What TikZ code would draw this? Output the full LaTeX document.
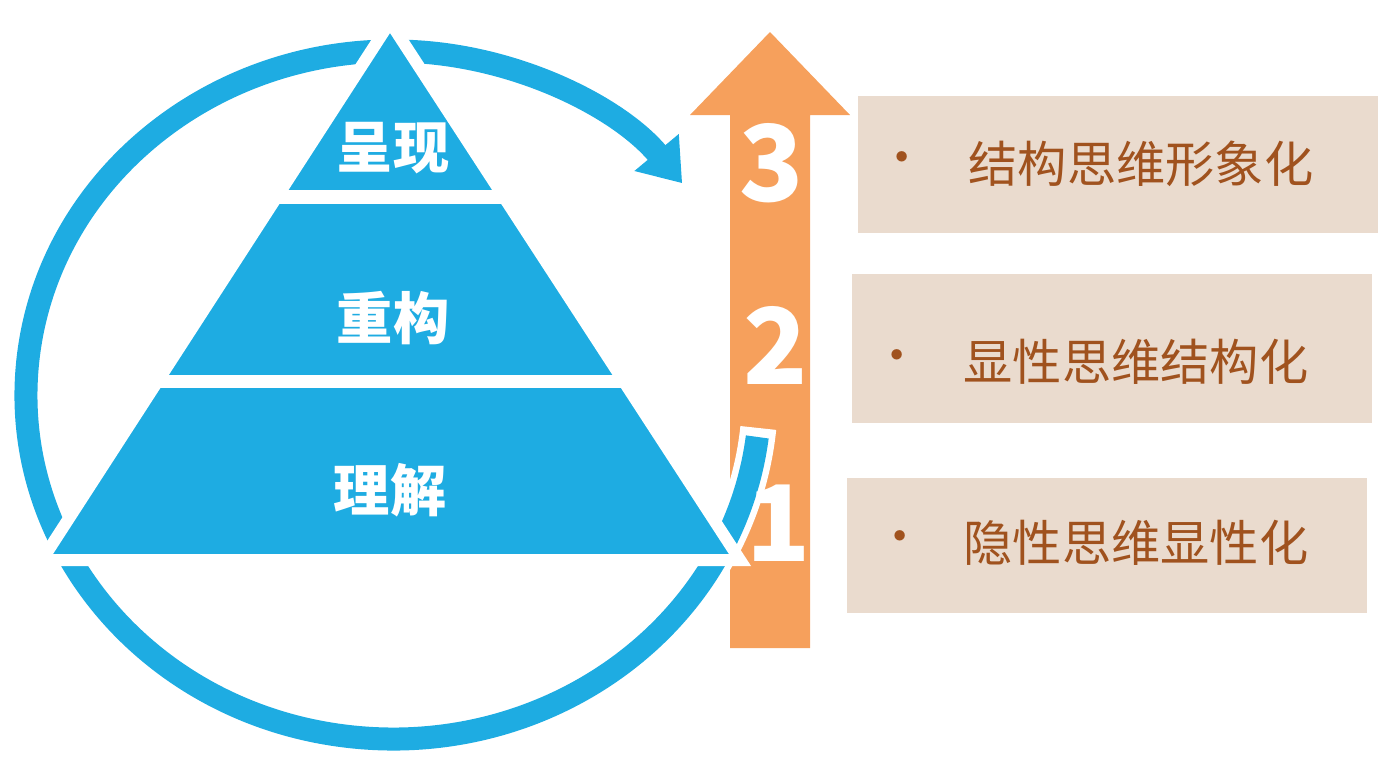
\documentclass[tikz,border=0pt]{standalone}
\usepackage{fontspec}
\setmainfont{Noto Sans CJK SC}
\usetikzlibrary{arrows.meta}
\definecolor{ringblue}{HTML}{1EACE2}
\definecolor{uporange}{HTML}{F6A05C}
\definecolor{boxbeige}{HTML}{EADBCE}
\definecolor{textbrown}{HTML}{A0521E}
\tikzset{
  level/.style={text=white,font=\fontsize{16}{16}\selectfont\bfseries},
  stepnum/.style={text=white,font=\fontsize{30}{30}\selectfont\bfseries},
  itembox/.style={fill=boxbeige,draw=none,anchor=north west,minimum width=5.2cm,inner sep=0pt},
  itemtext/.style={text=textbrown,font=\fontsize{14}{14}\selectfont,anchor=west,inner sep=0pt},
}
\begin{document}
\begin{tikzpicture}[x=0.01cm,y=-0.01cm]
  \useasboundingbox (0,0) rectangle (1387,766);
  % orange arrow
  \fill[uporange] (730,648) -- (730,115) -- (690,115) -- (770,32) -- (850,115) -- (810,115) -- (810,648) -- cycle;
  % ring
  \draw[white,line width=0.36cm] (393,395) ++(5.5:367 and 344) arc[start angle=5.5,end angle=40,x radius=367,y radius=344];
  \draw[ringblue,line width=0.23cm,-{Triangle[width=0.55cm,length=0.4cm]}]
    (393,395) ++(7:367 and 344) arc[start angle=7,end angle=322,x radius=367,y radius=344];
  % pyramid
  \fill[ringblue,draw=white,line width=0.12cm,line join=miter] (390,22) -- (740,560) -- (42,560) -- cycle;
  \draw[white,line width=0.14cm] (150,197) -- (650,197);
  \draw[white,line width=0.13cm] (100,381) -- (700,381);
  \node[level] (top) at (393,148) {呈现};
  \node[level] (mid) at (393,318) {重构};
  \node[level] (low) at (390,490) {理解};
  % numbers
  \node[stepnum] (n3) at (772,163) {3};
  \node[stepnum] (n2) at (776,345) {2};
  \node[stepnum] (n1) at (779,523) {1};
  % boxes
  \node[itembox,minimum height=1.37cm] (b3) at (857,95) {};
  \node[itembox,minimum height=1.49cm] (b2) at (851,273) {};
  \node[itembox,minimum height=1.35cm] (b1) at (846,477) {};
  \node[itemtext] (d3) at (877,164) {•};
  \node[itemtext] (d2) at (872,362) {•};
  \node[itemtext] (d1) at (875,543) {•};
  \node[itemtext] (t3) at (968,164) {结构思维形象化};
  \node[itemtext] (t2) at (963,362) {显性思维结构化};
  \node[itemtext] (t1) at (963,543) {隐性思维显性化};
\end{tikzpicture}
\end{document}
